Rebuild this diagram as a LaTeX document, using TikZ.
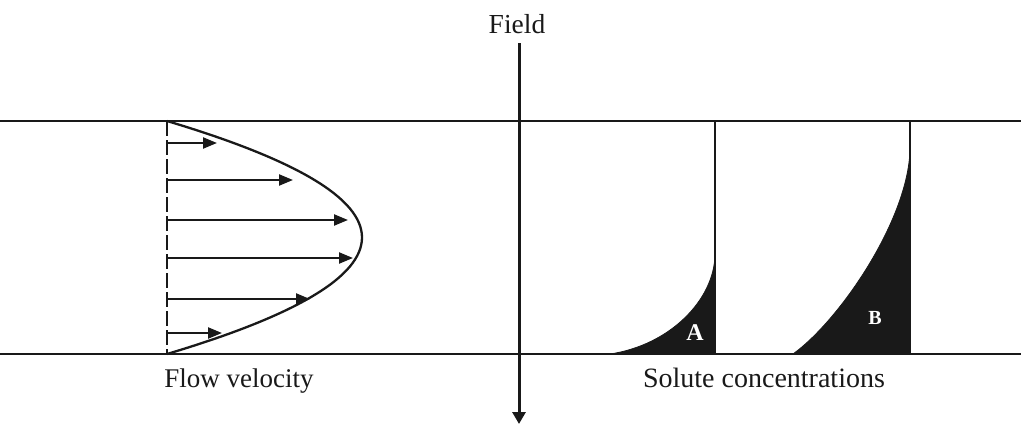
\documentclass[tikz,border=0pt]{standalone}
\usepackage{fontspec}
\setmainfont{Liberation Serif}
\usetikzlibrary{arrows.meta}
\tikzset{
  wall/.style={line width=2.8pt, color=black!90},
  fieldline/.style={line width=3pt, color=black!90, -{Triangle[width=13pt,length=12pt]}},
  vel/.style={line width=2.2pt, color=black!90, -{Triangle[width=11pt,length=14pt]}},
  prof/.style={line width=2.3pt, color=black!90},
  conc/.style={fill=black!90, draw=black!90, line width=0.8pt},
  lbl/.style={font=\fontsize{27.5}{30}\selectfont, text=black!90, inner sep=0pt, anchor=base},
  zone/.style={font=\fontsize{24}{28}\selectfont\bfseries, text=white, inner sep=0pt}
}
\begin{document}
\begin{tikzpicture}[x=1pt,y=-1pt]
\useasboundingbox (0,0) rectangle (1021,426);
% walls
\coordinate (wtl) at (0,121);
\coordinate (wtr) at (1021,121);
\coordinate (wbl) at (0,354);
\coordinate (wbr) at (1021,354);
\draw[wall] (wtl) -- (wtr);
\draw[wall] (wbl) -- (wbr);
% field
\node[lbl] (field) at (517,33) {Field};
\coordinate (ftop) at (519,43);
\coordinate (fbot) at (519,424);
\draw[fieldline] (ftop) -- (fbot);
% velocity profile
\coordinate (vtop) at (167,121);
\coordinate (vbot) at (167,354);
\draw[prof, dash pattern=on 15pt off 4pt] (vtop) -- (vbot);
\draw[prof] (vtop) .. controls (427,198.7) and (427,276.3) .. (vbot);
\foreach \y/\x [count=\i] in {143/217, 180/293, 220/348, 258/353, 299/310, 333/222}{
  \coordinate (vs\i) at (167,\y);
  \coordinate (ve\i) at (\x,\y);
  \draw[vel] (vs\i) -- (ve\i);
}
% concentration A
\coordinate (atop) at (715,121);
\coordinate (abot) at (715,354);
\coordinate (astart) at (610,354);
\coordinate (ameet) at (715,255);
\fill[conc] (astart) .. controls (670,345) and (714,300) .. (ameet) -- (abot) -- cycle;
\draw[prof] (atop) -- (abot);
\node[zone] (la) at (695,333) {A};
% concentration B
\coordinate (btop) at (910,121);
\coordinate (bbot) at (910,354);
\coordinate (bstart) at (793,354);
\coordinate (bmeet) at (910,150);
\fill[conc] (bstart) .. controls (840,320) and (908,220) .. (bmeet) -- (bbot) -- cycle;
\draw[prof] (btop) -- (bbot);
\node[zone, font=\fontsize{20}{24}\selectfont\bfseries] (lb) at (875,318) {B};
% labels
\node[lbl, font=\fontsize{27}{32}\selectfont] (flow) at (239,387) {Flow velocity};
\node[lbl, font=\fontsize{28}{32}\selectfont] (solute) at (764,387) {Solute concentrations};
\end{tikzpicture}
\end{document}
